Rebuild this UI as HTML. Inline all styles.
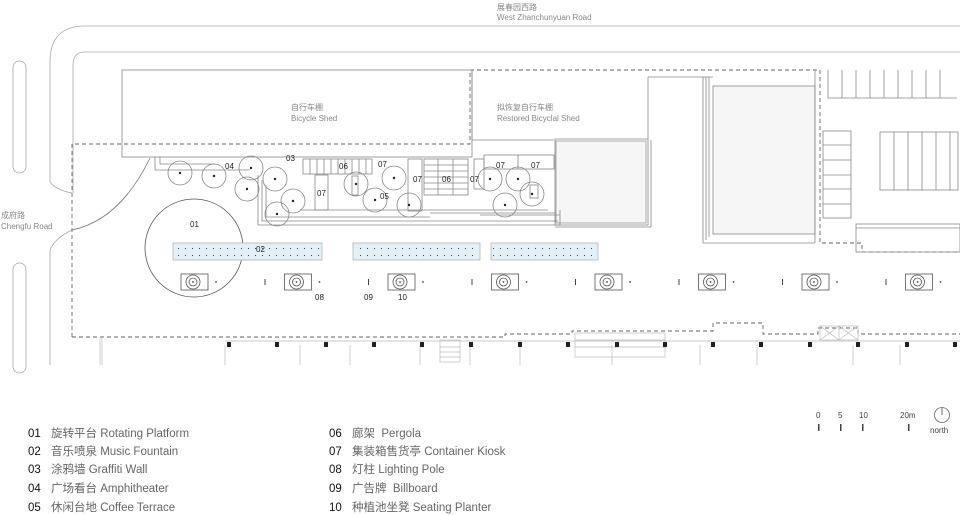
<!DOCTYPE html>
<html><head><meta charset="utf-8"><style>
html,body{margin:0;padding:0;background:#fff;}
svg{display:block;}
text{font-family:"Liberation Sans","Noto Sans CJK SC",sans-serif;}
</style></head><body>
<svg width="960" height="515" viewBox="0 0 960 515" xmlns="http://www.w3.org/2000/svg">
<g fill="none" stroke="#aaa" stroke-width="0.8">
<path d="M960 26 H85 Q50 26 50 62 V182 Q56 190 72 193"/>
<path d="M960 52 H85 Q73 52 73 65 V193"/>
<path d="M50 365 V250 Q55 238 72 230"/>
<rect x="13" y="61" width="13" height="112" rx="6.5"/>
<rect x="13" y="263" width="13" height="110" rx="6.5"/>
<path d="M150 158 Q120 220 72 230" stroke="#777"/>
</g>
<g fill="none" stroke="#666" stroke-width="0.9" stroke-dasharray="4,3">
<path d="M72 337 V144 H470 V70 H820 V243 H862 V252 H960"/>
<path d="M72 337 H505 V334 H572 V331 H713 V323 H763 V334 H818 V328 H858 V334 H960"/>
</g>
<g fill="none" stroke="#888" stroke-width="0.8">
<rect x="122" y="70" width="350" height="87"/>
<path d="M472 70 V140 H554"/>
<path d="M648 77 V225 H555 V139 H648"/>
<path d="M651 140 V227 H555"/>
<path d="M648 77 H713"/>
<rect x="556" y="141" width="90" height="82" fill="#f6f6f6" stroke="#999"/>
<path d="M703 77 V243 H815"/><path d="M706 77 V240"/><path d="M709 77 V237"/>
<rect x="713" y="86" width="102" height="148" fill="#f6f6f6"/>
<path d="M815 70 V243"/>
<path d="M828 70 V98 H957"/>
<path d="M842 70V98M856 70V98M870 70V98M884 70V98M898 70V98M912 70V98M926 70V98M940 70V98"/>
<rect x="880" y="132" width="78" height="58"/>
<path d="M894 132V190M908 132V190M922 132V190M936 132V190M950 132V190"/>
<rect x="823" y="131" width="28" height="87"/>
<path d="M823 145H851M823 160H851M823 175H851M823 189H851M823 204H851"/>
<rect x="856" y="224" width="104" height="28"/>
<path d="M856 228H960"/>
<path d="M155 157 V170 H250 M160 157 V164 H215"/>
<path d="M258 175 V225 H560 V210 M262 180 V221 H558 M266 185 V217 H430 M300 210 H548"/>
<path d="M430 213 H555 M480 215 H560"/>
<rect x="303" y="159" width="69" height="15"/>
<path d="M310 159V174M317 159V174M324 159V174M331 159V174M338 159V174M345 159V174M352 159V174M359 159V174M366 159V174"/>
<rect x="424" y="159" width="44" height="36"/>
<path d="M424 165H468M424 171H468M424 177H468M424 183H468M424 189H468M438 159V195M453 159V195"/>
<rect x="315" y="175" width="13" height="35"/>
<rect x="408" y="159" width="14" height="52"/>
<rect x="474" y="159" width="10" height="30"/>
<rect x="484" y="155" width="70" height="14"/>
<path d="M518 155 V169"/>
<rect x="352" y="176" width="6" height="19"/>
<rect x="530" y="185" width="8" height="13"/>
<circle cx="180" cy="173" r="12"/><circle cx="214" cy="176" r="12"/><circle cx="251" cy="168" r="12"/>
<circle cx="247" cy="189" r="12"/><circle cx="275" cy="179" r="12"/><circle cx="293" cy="201" r="12"/>
<circle cx="277" cy="214" r="12"/><circle cx="356" cy="184" r="12"/><circle cx="394" cy="178" r="12"/>
<circle cx="375" cy="200" r="12"/><circle cx="409" cy="205" r="12"/><circle cx="490" cy="179" r="12"/>
<circle cx="518" cy="179" r="12"/><circle cx="532" cy="194" r="12"/><circle cx="505" cy="205" r="12"/>
<circle cx="194" cy="248" r="49" stroke="#555"/>
</g>
<g fill="#222">
<circle cx="180" cy="173" r="1.2"/><circle cx="214" cy="176" r="1.2"/><circle cx="251" cy="168" r="1.2"/>
<circle cx="247" cy="189" r="1.2"/><circle cx="275" cy="179" r="1.2"/><circle cx="293" cy="201" r="1.2"/>
<circle cx="277" cy="214" r="1.2"/><circle cx="356" cy="184" r="1.2"/><circle cx="394" cy="178" r="1.2"/>
<circle cx="375" cy="200" r="1.2"/><circle cx="409" cy="205" r="1.2"/><circle cx="490" cy="179" r="1.2"/>
<circle cx="518" cy="179" r="1.2"/><circle cx="532" cy="194" r="1.2"/><circle cx="505" cy="205" r="1.2"/>
</g>
<defs><pattern id="d" x="0" y="0" width="7" height="7" patternUnits="userSpaceOnUse"><circle cx="3.5" cy="3.5" r="0.6" fill="#444"/></pattern></defs>
<g stroke="#aaa" stroke-width="0.7">
<rect x="173" y="243" width="149" height="17" fill="#e4f0f8"/><rect x="175" y="245" width="145" height="13" fill="url(#d)" stroke="none"/>
<rect x="353" y="243" width="127" height="17" fill="#e4f0f8"/><rect x="355" y="245" width="123" height="13" fill="url(#d)" stroke="none"/>
<rect x="491" y="243" width="107" height="17" fill="#e4f0f8"/><rect x="493" y="245" width="103" height="13" fill="url(#d)" stroke="none"/>
</g>
<g fill="none" stroke="#555" stroke-width="0.8">
<g id="p"><rect x="181" y="274" width="27" height="16"/><circle cx="193" cy="282" r="7"/><circle cx="193" cy="282" r="4"/></g>
<use href="#p" x="103.5"/><use href="#p" x="207"/><use href="#p" x="310.5"/><use href="#p" x="414"/><use href="#p" x="517.5"/><use href="#p" x="621"/><use href="#p" x="724.5"/>
</g>
<g fill="#444">
<g id="q"><circle cx="193" cy="282" r="0.9"/><circle cx="216" cy="282" r="0.9"/><rect x="264.5" y="279" width="1" height="6"/></g>
<use href="#q" x="103.5"/><use href="#q" x="207"/><use href="#q" x="310.5"/><use href="#q" x="414"/><use href="#q" x="517.5"/><use href="#q" x="621"/>
<g transform="translate(724.5 0)"><circle cx="193" cy="282" r="0.9"/><circle cx="216" cy="282" r="0.9"/></g>
</g>
<g fill="none" stroke="#bbb" stroke-width="0.7">
<path d="M100 337V365M102 337V365M225 345V365M300 345V365M350 345V365M420 345V365M470 345V365M520 340V365M612 345V365M700 345V365M757 345V365M853 345V365M900 345V365M225 341H960"/>
<rect x="575" y="333" width="90" height="24"/><path d="M575 340H665M575 347H665"/>
<rect x="820" y="326" width="38" height="14"/><path d="M820 326L839 340M839 326L820 340M839 326L858 340M858 326L839 340M839 326V340"/>
<rect x="440" y="340" width="20" height="22"/><path d="M440 347H460M440 352H460M440 357H460"/>
</g>
<g fill="#222">
<rect x="227" y="342" width="4" height="5"/><rect x="275" y="342" width="4" height="5"/><rect x="324" y="342" width="4" height="5"/><rect x="372" y="342" width="4" height="5"/><rect x="420" y="342" width="4" height="5"/><rect x="469" y="342" width="4" height="5"/><rect x="518" y="342" width="4" height="5"/><rect x="566" y="342" width="4" height="5"/><rect x="615" y="342" width="4" height="5"/><rect x="663" y="342" width="4" height="5"/><rect x="711" y="342" width="4" height="5"/><rect x="759" y="342" width="4" height="5"/><rect x="808" y="342" width="4" height="5"/><rect x="856" y="342" width="4" height="5"/><rect x="905" y="342" width="4" height="5"/><rect x="953" y="342" width="4" height="5"/>
</g>
<g fill="#888" font-size="8">
<text x="497" y="10">展春园西路</text><text x="497" y="20">West Zhanchunyuan Road</text>
<text x="1" y="218">成府路</text><text x="1" y="229">Chengfu Road</text>
<text x="291" y="110">自行车棚</text><text x="291" y="121">Bicycle Shed</text>
<text x="497" y="110">拟恢复自行车棚</text><text x="497" y="121">Restored Bicyclal Shed</text>
</g>
<g fill="#222" font-size="8">
<text x="190" y="227">01</text><text x="256" y="252">02</text><text x="286" y="161">03</text><text x="225" y="169">04</text>
<text x="380" y="199">05</text><text x="339" y="169">06</text><text x="442" y="182">06</text>
<text x="378" y="167">07</text><text x="317" y="196">07</text><text x="413" y="182">07</text><text x="470" y="182">07</text><text x="496" y="168">07</text><text x="531" y="168">07</text>
<text x="315" y="300">08</text><text x="364" y="300">09</text><text x="398" y="300">10</text>
</g>
<g font-size="11.5">
<g fill="#111"><text x="28" y="437">01</text><text x="28" y="455">02</text><text x="28" y="473">03</text><text x="28" y="492">04</text><text x="28" y="511">05</text>
<text x="329" y="437">06</text><text x="329" y="455">07</text><text x="329" y="473">08</text><text x="329" y="492">09</text><text x="329" y="511">10</text></g>
<g fill="#666"><text x="51" y="437">旋转平台 Rotating Platform</text><text x="51" y="455">音乐喷泉 Music Fountain</text><text x="51" y="473">涂鸦墙 Graffiti Wall</text><text x="51" y="492">广场看台 Amphitheater</text><text x="51" y="511">休闲台地 Coffee Terrace</text>
<text x="352" y="437">廊架 &#160;Pergola</text><text x="352" y="455">集装箱售货亭 Container Kiosk</text><text x="352" y="473">灯柱 Lighting Pole</text><text x="352" y="492">广告牌 &#160;Billboard</text><text x="352" y="511">种植池坐凳 Seating Planter</text></g>
</g>
<g font-size="8" fill="#444">
<text x="816" y="418">0</text><text x="838" y="418">5</text><text x="859" y="418">10</text><text x="900" y="418">20m</text><text x="930" y="433">north</text>
<rect x="818" y="424" width="1.5" height="7"/><rect x="840" y="424" width="1.5" height="7"/><rect x="862" y="424" width="1.5" height="7"/><rect x="908" y="424" width="1.5" height="7"/>
</g>
<circle cx="942" cy="415" r="7.5" fill="none" stroke="#666" stroke-width="0.8"/><path d="M942 408V415" stroke="#444" stroke-width="0.8"/>
</svg>
</body></html>
